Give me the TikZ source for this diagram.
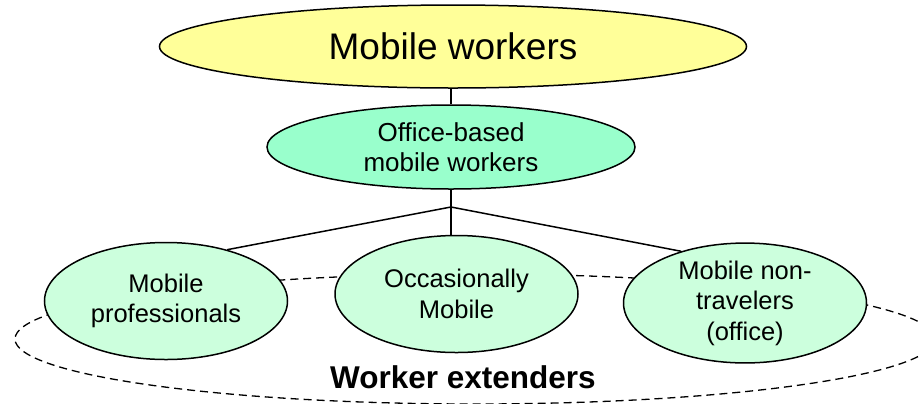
\documentclass[tikz,border=0pt]{standalone}
\usepackage{fontspec}
\setmainfont{Liberation Sans}
\usetikzlibrary{shapes.geometric}

\definecolor{topfill}{HTML}{FFFF99}
\definecolor{midfill}{HTML}{99FFCC}
\definecolor{leaffill}{HTML}{CCFFDD}

\tikzset{
  x=1bp, y=-1bp,
  bubble/.style={ellipse, draw=black, line width=1.5bp, inner sep=0pt,
                 align=center, text=black},
  leaf/.style={bubble, fill=leaffill, minimum width=243bp, minimum height=117bp,
               font=\fontsize{25.5bp}{30.5bp}\selectfont},
  link/.style={draw=black, line width=1.5bp},
  group/.style={ellipse, draw=black, line width=1.3bp,
                dash pattern=on 8bp off 5bp, inner sep=0pt}
}

\begin{document}
\begin{tikzpicture}
\useasboundingbox (0,0) rectangle (919,403);

% dashed outline of the worker-extender group
\node[group, minimum width=920bp, minimum height=130bp] (ext) at (475,339) {};
\node[font=\bfseries\fontsize{31.5bp}{36bp}\selectfont, anchor=base] (extlabel)
  at (463,388) {Worker extenders};

% hierarchy
\node[bubble, fill=topfill, minimum width=587bp, minimum height=83bp,
      font=\fontsize{37bp}{44bp}\selectfont] (top) at (453,46.5) {Mobile workers};
\node[bubble, fill=midfill, minimum width=368bp, minimum height=84bp,
      font=\fontsize{26bp}{30bp}\selectfont] (office) at (451,147)
  {Office-based\\mobile workers};

\node[leaf] (prof) at (166,301) {Mobile\\professionals};
\node[leaf, font=\fontsize{25.5bp}{31bp}\selectfont] (occ) at (456.5,294)
  {Occasionally\\Mobile};
\node[leaf, minimum height=116bp] (nontrav) at (745,303)
  {Mobile non-\\travelers\\(office)};

% connectors
\coordinate (split) at (451,207);
\draw[link] (office.north) -- (office.north |- top.south);
\draw[link] (office.south) -- (split);
\draw[link] (split) -- (split |- occ.north);
\draw[link] (split) -- (prof.40);
\draw[link] (split) -- (nontrav.141);
\end{tikzpicture}
\end{document}
